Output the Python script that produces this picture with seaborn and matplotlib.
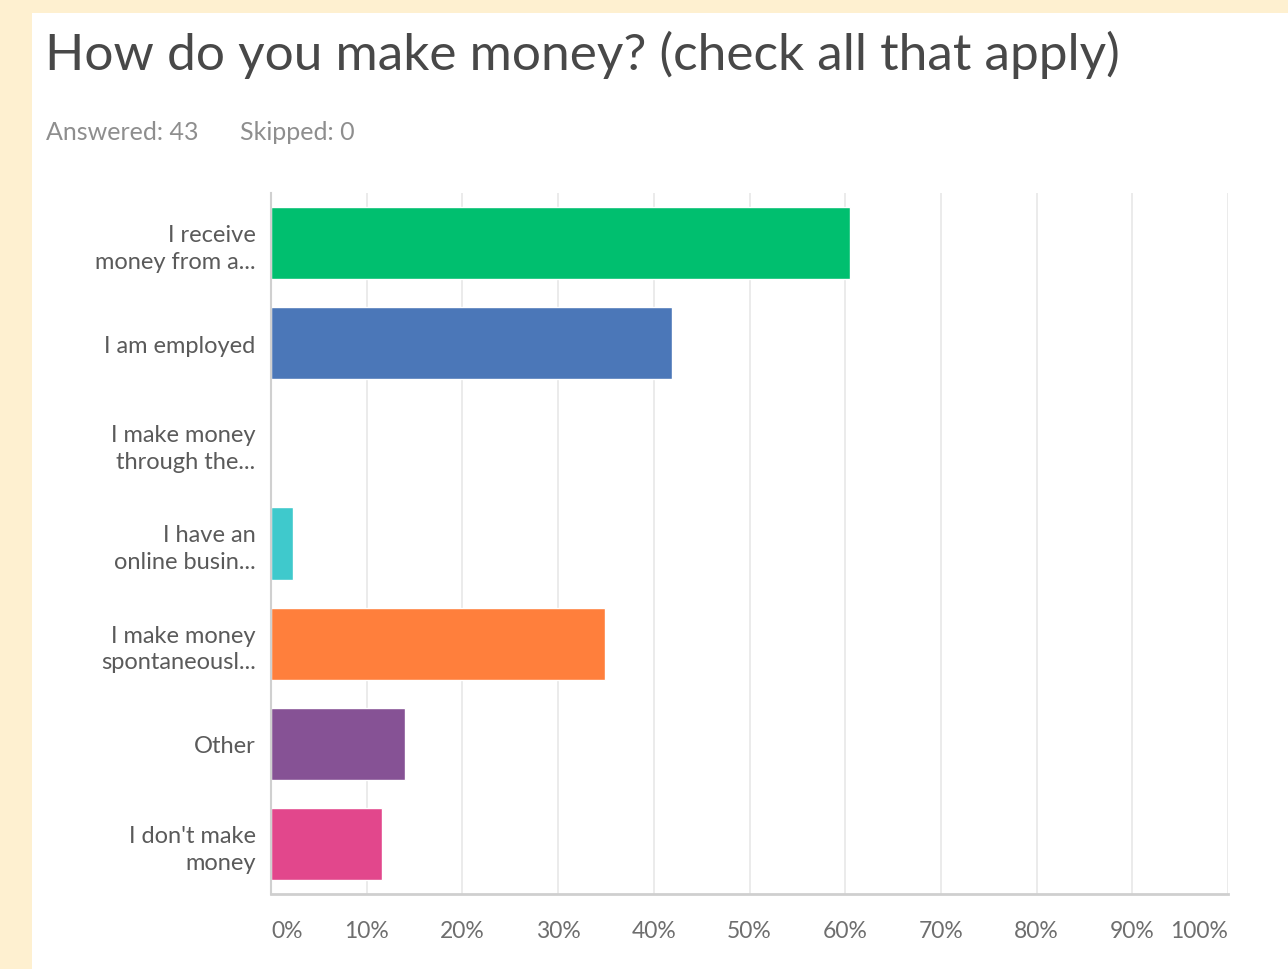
import matplotlib
matplotlib.use("Agg")
import matplotlib.pyplot as plt
from matplotlib.patches import Rectangle
import seaborn as sns
import pandas as pd

# Survey answers (share of 43 respondents, in percent)
categories = [
    "I receive\nmoney from a...",
    "I am employed",
    "I make money\nthrough the...",
    "I have an\nonline busin...",
    "I make money\nspontaneousl...",
    "Other",
    "I don't make\nmoney",
]
percentages = [60.47, 41.86, 0.0, 2.33, 34.88, 13.95, 11.63]
bar_colors = ["#00BF6F", "#4B77B8", "#F9BE00", "#3FC9CC", "#FF7F3C", "#865295", "#E2478C"]
tick_values = list(range(0, 101, 10))
tick_labels = [f"{v}%" for v in tick_values]

df = pd.DataFrame({"answer": categories, "pct": percentages})

sns.set_theme(style="white")
plt.rcParams["font.family"] = ["Lato", "DejaVu Sans"]

W, H = 1288, 970
fig = plt.figure(figsize=(W / 100, H / 100), dpi=100, facecolor="#FEF0D0")

# white card behind the chart
fig.patches.append(Rectangle((32 / W, 0), 1 - 32 / W, 1 - 14 / H,
                             transform=fig.transFigure, facecolor="white",
                             edgecolor="none", zorder=-10))

ax = fig.add_axes([271 / W, 1 - 895 / H, (1228 - 271) / W, (895 - 194) / H])
ax.set_facecolor("none")

sns.barplot(data=df, x="pct", y="answer", hue="answer", palette=bar_colors,
            order=categories, hue_order=categories, orient="h", width=0.72,
            legend=False, saturation=1, ax=ax)

ax.set_xlim(0, 100)
ax.set_ylim(6.5, -0.5)
ax.set_xlabel("")
ax.set_ylabel("")
ax.set_xticks(tick_values)
ax.set_xticklabels(tick_labels)
for i, lab in enumerate(ax.get_xticklabels()):
    if i == 0:
        lab.set_ha("left")
    elif i == len(tick_values) - 1:
        lab.set_ha("right")
    else:
        lab.set_ha("center")
ax.tick_params(axis="x", length=0, pad=19, labelsize=16.5, labelcolor="#6E6E6E")
ax.tick_params(axis="y", length=0, pad=11, labelsize=17, labelcolor="#5A5A5A")
for lab in ax.get_yticklabels():
    lab.set_multialignment("right")
    lab.set_linespacing(1.33)

ax.grid(axis="x", color="#E8E8E8", linewidth=1.2)
ax.set_axisbelow(True)
for side in ["top", "right"]:
    ax.spines[side].set_visible(False)
ax.spines["left"].set_color("#D0D0D0")
ax.spines["left"].set_linewidth(1.5)
ax.spines["bottom"].set_color("#CFCFCF")
ax.spines["bottom"].set_linewidth(2)

fig.text(45 / W, 1 - 55 / H, "How do you make money? (check all that apply)",
         fontsize=37, fontweight="normal", color="#484848", va="center", ha="left")
fig.text(46 / W, 1 - 133 / H, "Answered: 43", fontsize=18,
         color="#8E8E8E", va="center", ha="left")
fig.text(240 / W, 1 - 133 / H, "Skipped: 0", fontsize=18,
         color="#8E8E8E", va="center", ha="left")

fig.savefig("out.png", dpi=100, facecolor=fig.get_facecolor())
